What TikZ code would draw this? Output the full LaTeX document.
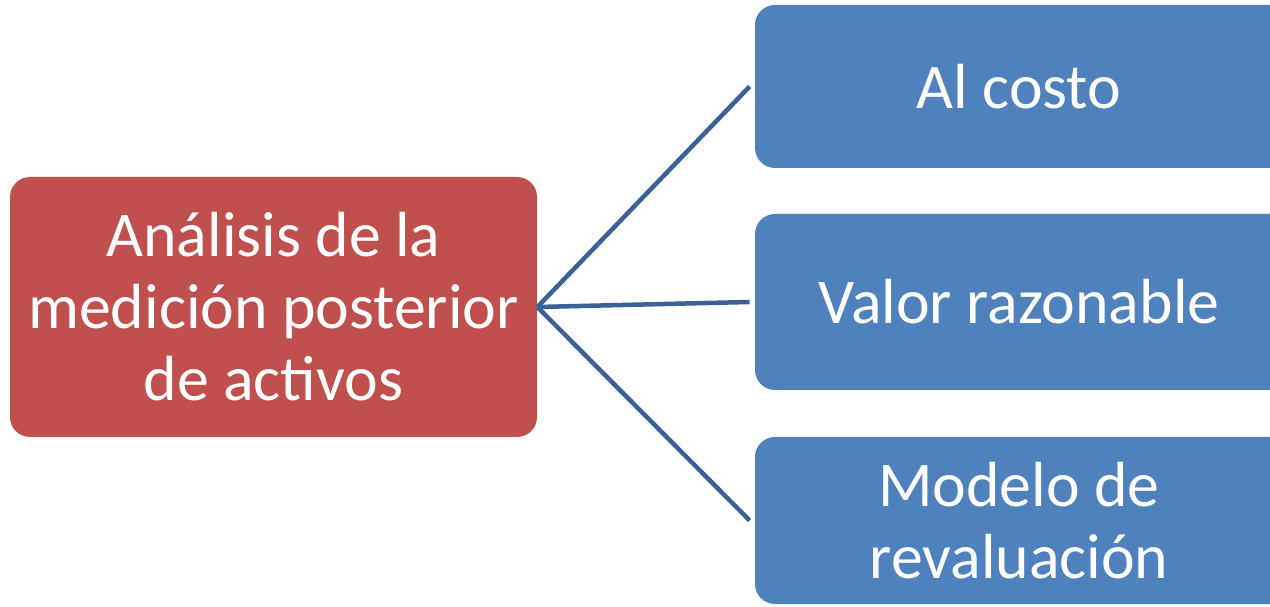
\documentclass[tikz,border=0pt]{standalone}
\usepackage{fontspec}
\setmainfont{Carlito}
\definecolor{boxred}{HTML}{C0504D}
\definecolor{boxblue}{HTML}{4F81BD}
\definecolor{linkblue}{HTML}{3A6296}
\tikzset{
    boxtext/.style={text=white, align=center, inner sep=0pt, font=\fontsize{36.3}{41}\selectfont},
    box/.style={rounded corners=0.4cm, boxtext},
    leaf/.style={box, fill=boxblue, minimum width=11.8cm},
    link/.style={draw=linkblue, line width=0.09cm}
}

\begin{document}
\begin{tikzpicture}
\useasboundingbox (0,0) rectangle (25.4,12.12);
\node[box, fill=boxred, minimum width=10.54cm, minimum height=5.2cm] (main) at (5.47,5.98)
    {Análisis de la\\medición posterior\\de activos};
\node[leaf, minimum height=3.26cm, label={[boxtext, xshift=-0.62cm]center:Al costo}] (costo) at (21.0,10.39) {};
\node[leaf, minimum height=3.52cm, label={[boxtext, xshift=-0.62cm]center:Valor razonable}] (valor) at (21.0,6.08) {};
\node[leaf, minimum height=3.34cm, label={[boxtext, xshift=-0.62cm]center:Modelo de\\revaluación}] (modelo) at (21.0,1.71) {};

\draw[link] (main.east) -- ([xshift=-0.1cm]costo.west);
\draw[link] (main.east) -- ([xshift=-0.1cm]valor.west);
\draw[link] (main.east) -- ([xshift=-0.1cm]modelo.west);
\end{tikzpicture}
\end{document}
